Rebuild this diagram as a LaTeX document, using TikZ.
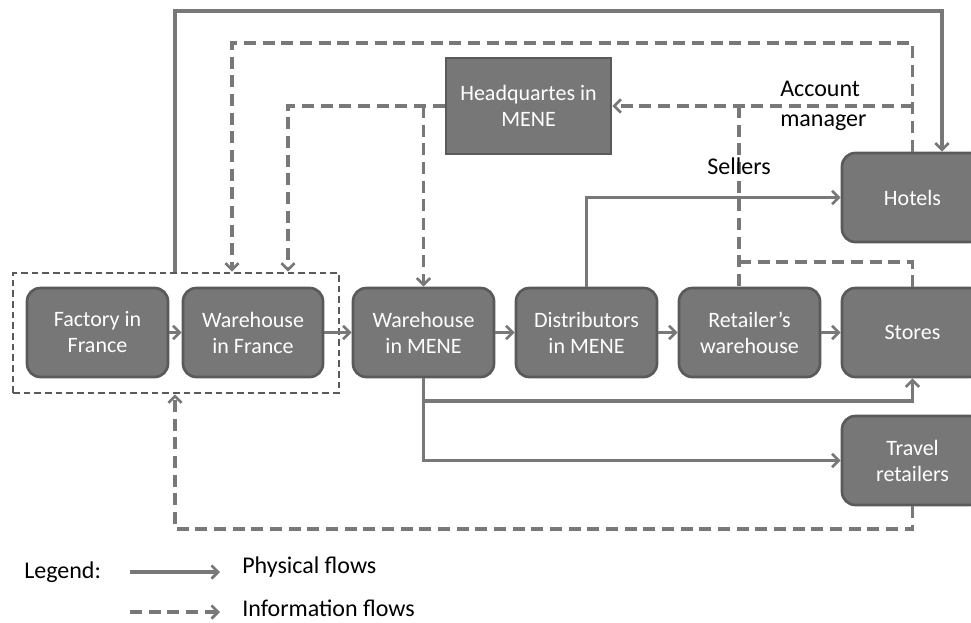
\documentclass[tikz,border=0pt]{standalone}
\usepackage{fontspec}
\setmainfont{Carlito}
\usetikzlibrary{arrows.meta}
\definecolor{boxfill}{HTML}{777777}
\definecolor{boxline}{HTML}{5A5A5A}
\definecolor{flow}{HTML}{787878}
\tikzset{
  box/.style={draw=boxline, fill=boxfill, line width=2pt, rounded corners=10pt,
    minimum width=105.75pt, minimum height=66.75pt, align=center, text=white,
    font=\fontsize{16.5}{19.5}\selectfont, inner sep=0pt},
  hqbox/.style={box, rounded corners=0pt, minimum width=123.75pt, minimum height=72pt},
  grpbox/.style={draw=boxline, line width=1.9pt, dash pattern=on 5pt off 3pt,
    minimum width=244.5pt, minimum height=90pt, inner sep=0pt},
  tip/.style={-{Straight Barb[length=5pt,width=10pt,line width=2pt]}},
  phys/.style={draw=flow, line width=2.4pt},
  info/.style={draw=flow, line width=2.4pt, dash pattern=on 9pt off 5pt},
  lbl/.style={font=\fontsize{18}{22}\selectfont, text=black, inner sep=0pt}
}
\begin{document}
\begin{tikzpicture}[x=0.75pt,y=-0.75pt]
\path[use as bounding box] (0,0) rectangle (971,622);
\begin{scope}
\clip (0,0) rectangle (971,622);
% group box
\node[grpbox] (grp) at (176,333) {};
% boxes
\node[box] (fac) at (97.5,332.5) {Factory in\\France};
\node[box, minimum width=105pt] (whf) at (253,332.5) {Warehouse\\in France};
\node[box] (whm) at (423.5,332.5) {Warehouse\\in MENE};
\node[box] (dist) at (586.5,332.5) {Distributors\\in MENE};
\node[box] (ret) at (749.5,332.5) {Retailer’s\\warehouse};
\node[box] (sto) at (912.5,332.5) {Stores};
\node[box] (hot) at (912.5,197.5) {Hotels};
\node[box] (trav) at (912.5,460.5) {Travel\\retailers};
\node[hqbox] (hq) at (528.5,106) {Headquartes in\\MENE};
% coordinates
\coordinate (t1) at (175,11);
\coordinate (h1) at (942,11);
\coordinate (d1) at (232,43);
\coordinate (d2) at (288,106);
\coordinate (d3) at (423.5,106);
\coordinate (am) at (912.5,106);
\coordinate (s1) at (739,262);
\coordinate (b1) at (423.5,401);
\coordinate (b2) at (175,529);
% physical flows
\draw[phys, tip] (fac) -- (whf);
\draw[phys, tip] (whf) -- (whm);
\draw[phys, tip] (whm) -- (dist);
\draw[phys, tip] (dist) -- (ret);
\draw[phys, tip] (ret) -- (sto);
\draw[phys, tip] (t1 |- grp.north) -- (t1) -- (h1) -- (h1 |- hot.north);
\draw[phys, tip] (dist.north) |- (hot.west);
\draw[phys, tip] (whm.south) |- (trav.west);
\draw[phys, tip] (b1) -| (sto.south);
% information flows
\draw[info, tip] (hot.north) |- (d1) -- (d1 |- grp.north);
\draw[info, tip] (hq.west) -- (d2) -- (d2 |- grp.north);
\draw[info, tip] (d3) -- (whm.north);
\draw[info, tip] (am) -- (hq.east);
\draw[info] (s1 |- am) -- (s1 |- ret.north);
\draw[info] (s1) -| (sto.north);
\draw[info, tip] (trav.south) |- (b2) -- (b2 |- grp.south);
% labels
\node[lbl, anchor=west, align=left] (acc) at (780,106) {Account\\manager};
\node[lbl] (sel) at (739,166) {Sellers};
% legend
\node[lbl, anchor=west] (leg) at (24,572) {Legend:};
\coordinate (l1a) at (130,572);
\coordinate (l1b) at (220,572);
\coordinate (l2a) at (130,612);
\coordinate (l2b) at (220,612);
\draw[phys, tip] (l1a) -- (l1b);
\draw[info, tip] (l2a) -- (l2b);
\node[lbl, anchor=west] (pf) at (242,567) {Physical flows};
\node[lbl, anchor=west] (if) at (242,608) {Information flows};
\end{scope}
\end{tikzpicture}
\end{document}
